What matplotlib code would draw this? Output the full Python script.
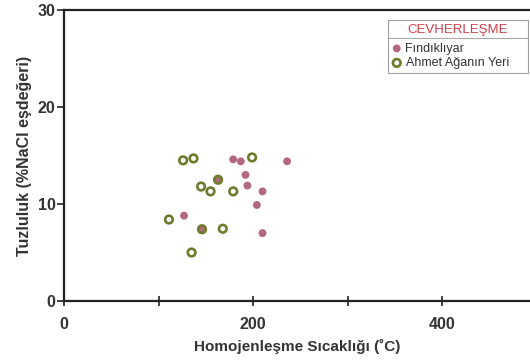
import matplotlib
matplotlib.use("Agg")
import matplotlib.pyplot as plt
from matplotlib.lines import Line2D

plt.rcParams['font.family'] = ['Liberation Sans', 'DejaVu Sans']

# Fındıklıyar (filled pink)
fin_temp = [179, 187, 192, 194, 210, 236, 210, 204, 127, 146, 163]
fin_sal = [14.6, 14.4, 13.0, 11.9, 11.3, 14.4, 7.0, 9.9, 8.8, 7.4, 12.5]

# Ahmet Ağanın Yeri (hollow green)
ahm_temp = [126, 137, 145, 155, 163, 179, 199, 146, 168, 135, 111]
ahm_sal = [14.5, 14.7, 11.8, 11.3, 12.5, 11.3, 14.8, 7.4, 7.45, 5.0, 8.4]

x_ticks = [0, 200, 400]
y_ticks = [0, 10, 20, 30]

fig = plt.figure(figsize=(5.30, 3.62), dpi=100)
ax = fig.add_axes([64/530, 1-301/362, 466/530, 291/362])

pink = '#b3687f'
green = '#6e7b2c'

ax.scatter(fin_temp, fin_sal, s=32, color=pink, edgecolors='none', zorder=3,
           label='Fındıklıyar')
ax.scatter(ahm_temp, ahm_sal, s=30, facecolors='none', edgecolors=green,
           linewidths=1.9, zorder=4, label='Ahmet Ağanın Yeri')

ax.set_xlim(0, 493)
ax.set_ylim(0, 30)
ax.set_xticks(x_ticks)
ax.set_xticks([100, 300], minor=True)
ax.set_yticks(y_ticks)

for s in ['left', 'bottom', 'top']:
    ax.spines[s].set_linewidth(1.6)
    ax.spines[s].set_color('#222222')
ax.spines['right'].set_visible(False)

ax.tick_params(axis='x', which='both', direction='inout', length=7, width=1.2,
               colors='#222222', labelsize=11.5, pad=8)
ax.tick_params(axis='y', direction='out', length=5, width=1.2,
               colors='#222222', labelsize=11.5, pad=1)
for lab in ax.get_xticklabels() + ax.get_yticklabels():
    lab.set_fontweight('bold')
    lab.set_color('#333333')

ax.set_xlabel('Homojenleşme Sıcaklığı (˚C)', fontsize=11, fontweight='bold',
              color='#333333', labelpad=5)
ax.set_ylabel('Tuzluluk (%NaCl eşdeğeri)', fontsize=11.5, fontweight='bold',
              color='#333333', labelpad=4)

leg = ax.legend(loc='upper left', bbox_to_anchor=(324/466, 0, 140/466, 1-10/291),
                mode='expand', title='CEVHERLEŞME', fontsize=9, title_fontsize=9.5,
                frameon=True, fancybox=False, edgecolor='#888888',
                handletextpad=0.3, borderpad=0.3, labelspacing=0.2,
                handlelength=0.8, borderaxespad=0)
leg._legend_box.sep = 5
leg.get_title().set_color('#d0404c')
leg.get_frame().set_linewidth(0.8)
for t in leg.get_texts():
    t.set_color('#333333')

fig.add_artist(Line2D([389/530, 527/530], [1-37.5/362, 1-37.5/362],
                      color='#aaaaaa', linewidth=0.8))

fig.savefig('out.png', dpi=100)
